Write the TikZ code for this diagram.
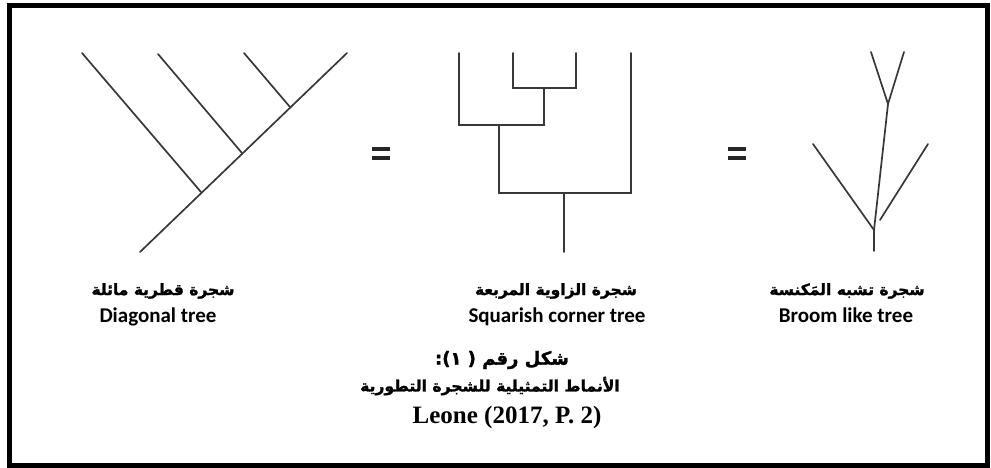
\documentclass[tikz,border=0pt]{standalone}
\usepackage{fontspec}
\setmainfont{Liberation Serif}
\newfontfamily\arabicfont[Script=Arabic, BoldFeatures={FakeBold=1.6}]{DejaVu Sans}
\newfontfamily\labfont{Carlito}
\TeXXeTstate=1
\begin{document}
\begin{tikzpicture}[x=1pt,y=-1pt,
  br/.style={draw=black!78, line width=1.7pt, line cap=round},
  eqbar/.style={draw=black!85, line width=3.8pt},
  outerframe/.style={draw=black, line width=5pt},
  arlab/.style={font=\arabicfont\bfseries\fontsize{15.5}{18}\selectfont, inner sep=0pt},
  enlab/.style={font=\labfont\bfseries\fontsize{21}{24}\selectfont, inner sep=0pt},
  capar/.style={font=\arabicfont\bfseries\fontsize{18}{22}\selectfont, inner sep=0pt},
  capartwo/.style={font=\arabicfont\bfseries\fontsize{15.6}{20}\selectfont, inner sep=0pt},
  capen/.style={font=\bfseries\fontsize{25}{28}\selectfont, inner sep=0pt}]
\useasboundingbox (0,0) rectangle (991,467);
\draw[outerframe] (9.5,5.5) rectangle (987.5,465);

% Diagonal tree
\coordinate (d0) at (140,252);
\coordinate (d1) at (347,53);
\coordinate (dj1) at (201,192);
\coordinate (dj2) at (242,153);
\coordinate (dj3) at (290,107);
\coordinate (dt1) at (82,53);
\coordinate (dt2) at (158,54);
\coordinate (dt3) at (244,53);
\draw[br] (d0) -- (d1);
\draw[br] (dt1) -- (dj1);
\draw[br] (dt2) -- (dj2);
\draw[br] (dt3) -- (dj3);

% equal signs
\coordinate (e1a) at (372,149); \coordinate (e1b) at (390,149);
\coordinate (e1c) at (372,158); \coordinate (e1d) at (390,158);
\draw[eqbar] (e1a) -- (e1b);
\draw[eqbar] (e1c) -- (e1d);
\coordinate (e2a) at (728,149); \coordinate (e2b) at (746,149);
\coordinate (e2c) at (728,158); \coordinate (e2d) at (746,158);
\draw[eqbar] (e2a) -- (e2b);
\draw[eqbar] (e2c) -- (e2d);

% Squarish corner tree
\coordinate (sa) at (459,53);
\coordinate (sb) at (513,53);
\coordinate (sc) at (576,53);
\coordinate (sd) at (631,53);
\draw[br] (sb) -- (513,88) -- (576,88) -- (sc);
\draw[br] (544,88) -- (544,125) -- (459,125) -- (sa);
\draw[br] (499,125) -- (499,193) -- (631,193) -- (sd);
\draw[br] (564,193) -- (564,252);

% Broom like tree
\coordinate (b0) at (874,251);
\coordinate (bj) at (874,230);
\coordinate (bl) at (813,144);
\coordinate (bjr) at (880,220);
\coordinate (br) at (928,144);
\coordinate (bt) at (888,104);
\coordinate (btl) at (871,52);
\coordinate (btr) at (904,52);
\draw[br] (b0) -- (bj) -- (bl);
\draw[br] (bj) -- (bt);
\draw[br] (bjr) -- (br);
\draw[br] (btl) -- (bt) -- (btr);

% labels
\node[arlab] (la1) at (163,291) {\beginR شجرة قطرية مائلة\endR};
\node[enlab, anchor=base] (le1) at (158,322) {Diagonal tree};
\node[arlab] (la2) at (556,291) {\beginR شجرة الزاوية المربعة\endR};
\node[enlab, anchor=base] (le2) at (557,322) {Squarish corner tree};
\node[arlab] (la3) at (847,291) {\beginR شجرة تشبه المَكنسة\endR};
\node[enlab, anchor=base] (le3) at (846,322) {Broom like tree};

% caption
\node[capar] (c1) at (502,360) {\beginR شكل رقم ( ١):\endR};
\node[capartwo] (c2) at (490,386) {\beginR الأنماط التمثيلية للشجرة التطورية\endR};
\node[capen, anchor=base] (c3) at (507,423) {Leone (2017, P. 2)};
\end{tikzpicture}
\end{document}
